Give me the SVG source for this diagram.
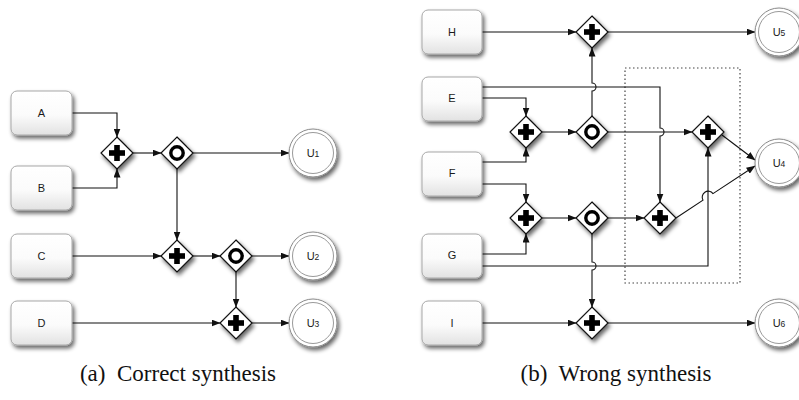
<svg xmlns="http://www.w3.org/2000/svg" xmlns:xlink="http://www.w3.org/1999/xlink" width="799" height="400" viewBox="0 0 799 400">
<style>
.box{fill:url(#bg);stroke:#a8a8a8;stroke-width:1}
.lbl{font-family:"Liberation Sans",Arial,sans-serif;font-size:11px;fill:#1a1a1a;text-anchor:middle}
.cap{font-family:"Liberation Serif","Times New Roman",serif;font-size:23px;fill:#111;text-anchor:middle}
.ln{fill:none;stroke:#111;stroke-width:1.1}
.ln-a{fill:none;stroke:#111;stroke-width:1.1;marker-end:url(#ar)}
.ucirc{fill:#fff;stroke:#8a8a8a;stroke-width:1}
.uin{fill:none;stroke:#9a9a9a;stroke-width:1}
.dot{fill:none;stroke:#444;stroke-width:1.2;stroke-dasharray:1.5 2.5}
</style>
<defs>
<linearGradient id="bg" x1="0" y1="0" x2="0" y2="1">
<stop offset="0" stop-color="#ffffff"/>
<stop offset="0.55" stop-color="#fbfbfb"/>
<stop offset="1" stop-color="#e2e2e2"/>
</linearGradient>
<filter id="sh" x="-40%" y="-40%" width="180%" height="180%">
<feGaussianBlur in="SourceAlpha" stdDeviation="2.2"/>
<feOffset dx="1.5" dy="3" result="o"/>
<feComponentTransfer><feFuncA type="linear" slope="0.6"/></feComponentTransfer>
<feMerge><feMergeNode/><feMergeNode in="SourceGraphic"/></feMerge>
</filter>
<marker id="ar" markerWidth="9" markerHeight="7" refX="8.5" refY="3.5" orient="auto" markerUnits="userSpaceOnUse">
<path d="M0,0 L9,3.5 L0,7 z" fill="#111"/>
</marker>
<g id="plus">
<polygon points="0,-16 16,0 0,16 -16,0" fill="#fff" stroke="#111" stroke-width="1.2" filter="url(#sh)"/>
<rect x="-8" y="-2.8" width="16" height="5.6" fill="#000"/>
<rect x="-2.8" y="-8" width="5.6" height="16" fill="#000"/>
</g>
<g id="xor">
<polygon points="0,-16 16,0 0,16 -16,0" fill="#fff" stroke="#111" stroke-width="1.2" filter="url(#sh)"/>
<circle r="6.2" fill="none" stroke="#000" stroke-width="3.4"/>
</g>
</defs>
<rect width="799" height="400" fill="#fff"/>

<!-- ===== (a) ===== -->
<g id="connectors-a">
<path class="ln-a" d="M72,113 H117 V137"/>
<path class="ln-a" d="M72,188 H117 V169"/>
<path class="ln-a" d="M133,153 H161"/>
<path class="ln-a" d="M193,153 H289"/>
<path class="ln-a" d="M177,169 V240"/>
<path class="ln-a" d="M72,256 H161"/>
<path class="ln-a" d="M193,256 H220"/>
<path class="ln-a" d="M252,256 H289"/>
<path class="ln-a" d="M236,272 V307"/>
<path class="ln-a" d="M72,323 H220"/>
<path class="ln-a" d="M252,323 H289"/>
</g>
<g id="A"><rect class="box" x="11" y="91" width="61" height="44" rx="6" filter="url(#sh)"/><text class="lbl" x="41.5" y="117">A</text></g>
<g id="B"><rect class="box" x="11" y="166" width="61" height="44" rx="6" filter="url(#sh)"/><text class="lbl" x="41.5" y="192">B</text></g>
<g id="C"><rect class="box" x="11" y="234" width="61" height="44" rx="6" filter="url(#sh)"/><text class="lbl" x="41.5" y="260">C</text></g>
<g id="D"><rect class="box" x="11" y="301" width="61" height="44" rx="6" filter="url(#sh)"/><text class="lbl" x="41.5" y="327">D</text></g>
<g id="a-and1"><use xlink:href="#plus" x="117" y="153"/></g>
<g id="a-xor1"><use xlink:href="#xor" x="177" y="153"/></g>
<g id="a-and2"><use xlink:href="#plus" x="177" y="256"/></g>
<g id="a-xor2"><use xlink:href="#xor" x="236" y="256"/></g>
<g id="a-and3"><use xlink:href="#plus" x="236" y="323"/></g>
<g id="U1"><circle class="ucirc" cx="313" cy="153" r="24" filter="url(#sh)"/><circle class="uin" cx="313" cy="153" r="20.5"/><text class="lbl" x="313" y="157">U<tspan font-size="8.5">1</tspan></text></g>
<g id="U2"><circle class="ucirc" cx="313" cy="256" r="24" filter="url(#sh)"/><circle class="uin" cx="313" cy="256" r="20.5"/><text class="lbl" x="313" y="260">U<tspan font-size="8.5">2</tspan></text></g>
<g id="U3"><circle class="ucirc" cx="313" cy="323" r="24" filter="url(#sh)"/><circle class="uin" cx="313" cy="323" r="20.5"/><text class="lbl" x="313" y="327">U<tspan font-size="8.5">3</tspan></text></g>
<text class="cap" x="178" y="381">(a)&#160; Correct synthesis</text>

<!-- ===== (b) ===== -->
<rect id="region" class="dot" x="625" y="68" width="115" height="215"/>
<g id="connectors-b">
<path class="ln-a" d="M482,32 H576"/>
<path class="ln-a" d="M608,32 H755"/>
<path class="ln-a" d="M592,116 V91 A4,4 0 0 0 592,83 V48"/>
<path class="ln-a" d="M482,87 H660 V128 A4,4 0 0 1 660,136 V202"/>
<path class="ln-a" d="M482,98 H526 V116"/>
<path class="ln-a" d="M482,162 H526 V148"/>
<path class="ln-a" d="M482,184 H526 V202"/>
<path class="ln-a" d="M482,254 H526 V234"/>
<path class="ln-a" d="M482,266 H708 V148"/>
<path class="ln-a" d="M542,132 H576"/>
<path class="ln-a" d="M608,132 H692"/>
<path class="ln-a" d="M542,218 H576"/>
<path class="ln-a" d="M608,218 H644"/>
<path class="ln-a" d="M592,234 V262 A4,4 0 0 1 592,270 V307"/>
<path class="ln-a" d="M482,323 H576"/>
<path class="ln-a" d="M608,323 H755"/>
<path class="ln-a" d="M676,218 L703,200.2 A6,6 0 0 1 713,193.6 L755,166"/>
<path class="ln-a" d="M722,135 L755,160"/>
</g>
<g id="H"><rect class="box" x="422" y="10" width="60" height="44" rx="6" filter="url(#sh)"/><text class="lbl" x="452" y="36">H</text></g>
<g id="E"><rect class="box" x="422" y="77" width="60" height="44" rx="6" filter="url(#sh)"/><text class="lbl" x="452" y="102">E</text></g>
<g id="F"><rect class="box" x="422" y="152" width="60" height="44" rx="6" filter="url(#sh)"/><text class="lbl" x="452" y="177">F</text></g>
<g id="G"><rect class="box" x="422" y="234" width="60" height="44" rx="6" filter="url(#sh)"/><text class="lbl" x="452" y="259">G</text></g>
<g id="I"><rect class="box" x="422" y="301" width="60" height="44" rx="6" filter="url(#sh)"/><text class="lbl" x="452" y="327">I</text></g>
<g id="b-and-top"><use xlink:href="#plus" x="592" y="32"/></g>
<g id="b-and1"><use xlink:href="#plus" x="526" y="132"/></g>
<g id="b-xor1"><use xlink:href="#xor" x="592" y="132"/></g>
<g id="b-and4"><use xlink:href="#plus" x="708" y="132"/></g>
<g id="b-and2"><use xlink:href="#plus" x="526" y="218"/></g>
<g id="b-xor2"><use xlink:href="#xor" x="592" y="218"/></g>
<g id="b-and3"><use xlink:href="#plus" x="660" y="218"/></g>
<g id="b-and-bot"><use xlink:href="#plus" x="592" y="323"/></g>
<g id="U5"><circle class="ucirc" cx="779" cy="32" r="24" filter="url(#sh)"/><circle class="uin" cx="779" cy="32" r="20.5"/><text class="lbl" x="779" y="36">U<tspan font-size="8.5">5</tspan></text></g>
<g id="U4"><circle class="ucirc" cx="779" cy="163" r="24" filter="url(#sh)"/><circle class="uin" cx="779" cy="163" r="20.5"/><text class="lbl" x="779" y="167">U<tspan font-size="8.5">4</tspan></text></g>
<g id="U6"><circle class="ucirc" cx="779" cy="323" r="24" filter="url(#sh)"/><circle class="uin" cx="779" cy="323" r="20.5"/><text class="lbl" x="779" y="327">U<tspan font-size="8.5">6</tspan></text></g>
<text class="cap" x="616" y="381">(b)&#160; Wrong synthesis</text>
</svg>
